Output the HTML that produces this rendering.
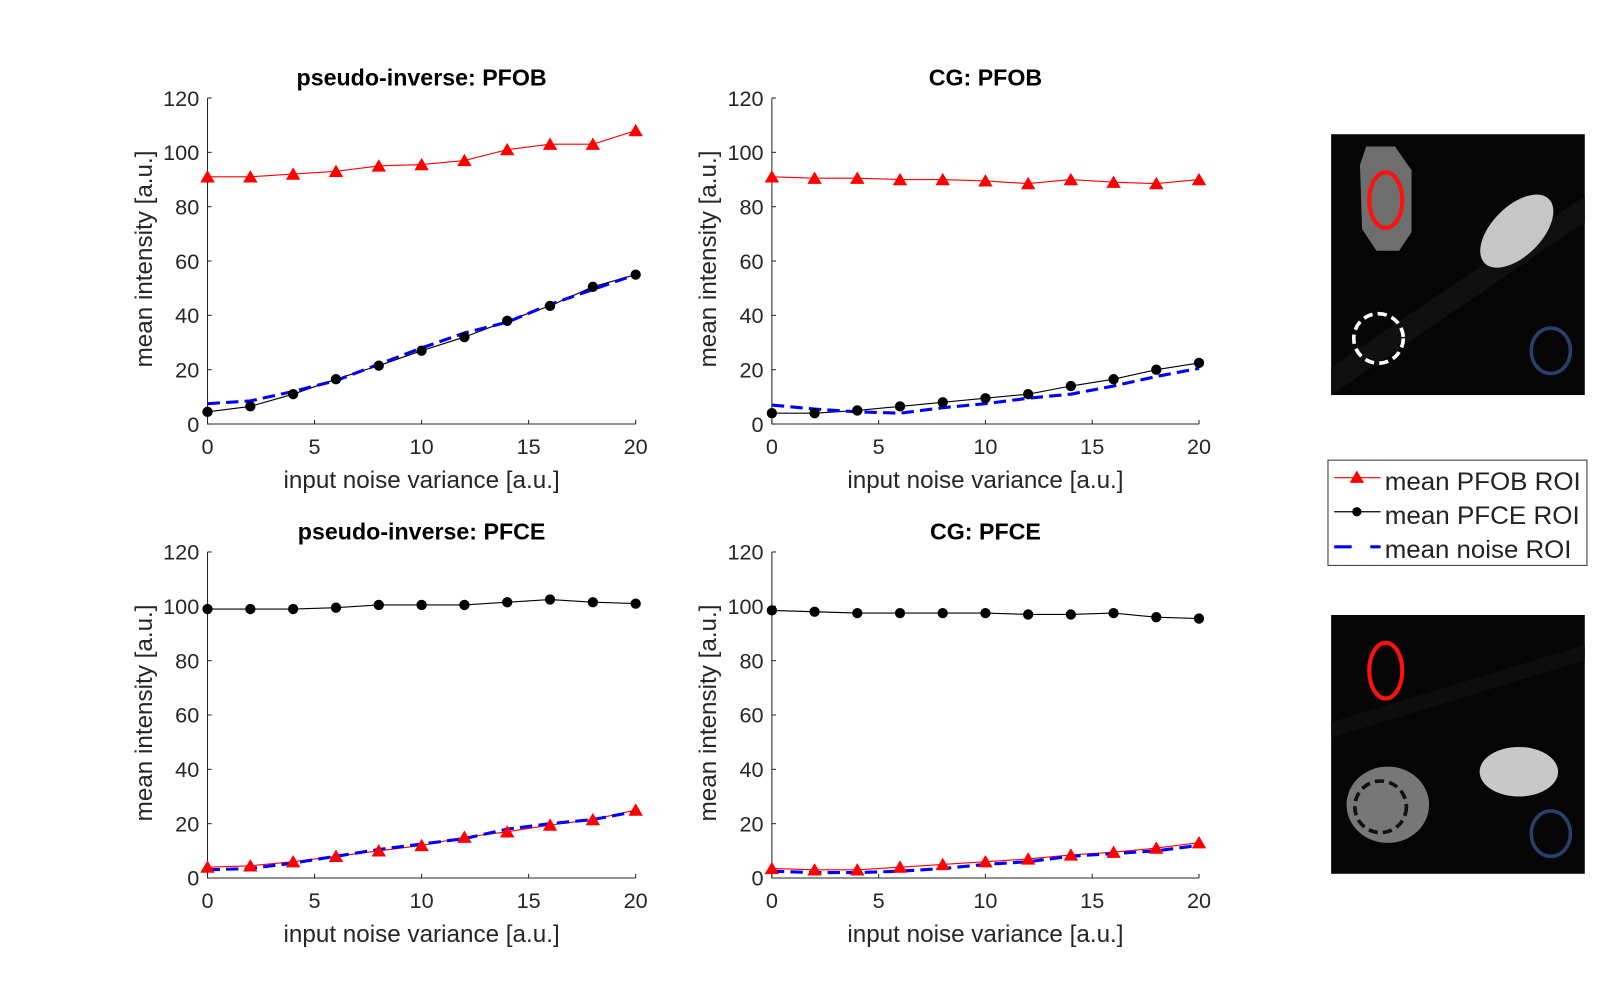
<!DOCTYPE html>
<html><head><meta charset="utf-8"><style>
html,body{margin:0;padding:0;background:#fff;}
svg{display:block;font-family:"Liberation Sans",Arial,sans-serif;}
</style></head><body>
<svg id="fig" width="1617" height="1008" viewBox="0 0 1567 977" xmlns="http://www.w3.org/2000/svg">
<defs>
 <clipPath id="clipTop"><rect x="1290" y="130" width="246" height="253"/></clipPath>
 <clipPath id="clipBot"><rect x="1290" y="596" width="246" height="251"/></clipPath>
</defs>
<rect width="1567" height="977" fill="#fff"/>
<g id="plots"></g>
<!-- top image -->
<g clip-path="url(#clipTop)">
 <rect x="1290" y="130" width="246" height="253" fill="#050505"/>
 <polygon points="1250,383 1536,190 1536,215 1290,383" fill="#101010"/>
 <polygon points="1324,142 1352,142 1368,165 1368,225 1356,243 1334,243 1320,222 1318,160" fill="#6e6e6e"/>
 <ellipse cx="1470" cy="224" rx="24" ry="44" transform="rotate(45 1470 224)" fill="#c6c6c6"/>
 <ellipse cx="1343" cy="194" rx="16" ry="27" fill="none" stroke="#ff1010" stroke-width="4"/>
 <circle cx="1336" cy="328" r="24" fill="none" stroke="#fff" stroke-width="3.5" stroke-dasharray="9,5"/>
 <ellipse cx="1503" cy="340" rx="19" ry="22" fill="none" stroke="#2a3f6c" stroke-width="3.5"/>
</g>
<!-- bottom image -->
<g clip-path="url(#clipBot)">
 <rect x="1290" y="596" width="246" height="251" fill="#050505"/>
 <polygon points="1290,700 1536,625 1536,640 1290,715" fill="#0d0d0d"/>
 <ellipse cx="1345" cy="780" rx="40" ry="37" fill="#777"/>
 <ellipse cx="1472" cy="748" rx="38" ry="24" fill="#c8c8c8"/>
 <ellipse cx="1343" cy="650" rx="16" ry="27" fill="none" stroke="#ff1010" stroke-width="4"/>
 <circle cx="1338" cy="782" r="25" fill="none" stroke="#111" stroke-width="3.5" stroke-dasharray="9,5"/>
 <ellipse cx="1503" cy="808" rx="19" ry="22" fill="none" stroke="#2a3f6c" stroke-width="3.5"/>
</g>
<!-- legend -->
<g>
 <rect x="1287" y="446" width="251" height="102" fill="#fff" stroke="#333" stroke-width="1"/>
 <g>
  <line x1="1293" y1="463" x2="1338" y2="463" stroke="#ff0000" stroke-width="1.2"/>
  <polygon points="1315,456 1322,468 1308,468" fill="#ff0000"/>
  <text x="1342" y="475" font-size="24" textLength="190" lengthAdjust="spacingAndGlyphs" fill="#222">mean PFOB ROI</text>
 </g>
 <g>
  <line x1="1293" y1="496" x2="1338" y2="496" stroke="#000" stroke-width="1.2"/>
  <circle cx="1315" cy="496" r="4.5" fill="#000"/>
  <text x="1342" y="508" font-size="24" textLength="189" lengthAdjust="spacingAndGlyphs" fill="#222">mean PFCE ROI</text>
 </g>
 <g>
  <line x1="1293" y1="530" x2="1310" y2="530" stroke="#0000ff" stroke-width="3"/>
  <line x1="1328" y1="530" x2="1338" y2="530" stroke="#0000ff" stroke-width="3"/>
  <text x="1342" y="541" font-size="24" textLength="181" lengthAdjust="spacingAndGlyphs" fill="#222">mean noise ROI</text>
 </g>
</g>
</svg>
<script>
const xValues = [0,2,4,6,8,10,12,14,16,18,20];
const xTicks = [0,5,10,15,20];
const yTicks = [0,20,40,60,80,100,120];
const titles = ["pseudo-inverse: PFOB","CG: PFOB","pseudo-inverse: PFCE","CG: PFCE"];
const tlRed = [91,91,92,93,95,95.5,97,101,103,103,108];
const tlBlack = [4.5,6.5,11,16.5,21.5,27,32,38,43.5,50.5,55];
const tlBlue = [7.5,8.5,12,16,22,28,33.5,37.5,44,49.5,55];
const trRed = [91,90.5,90.5,90,90,89.5,88.5,90,89,88.5,90];
const trBlack = [4,4,5,6.5,8,9.5,11,14,16.5,20,22.5];
const trBlue = [7,5.5,4.5,4,6,7.5,9.5,11,14,17.5,20.5];
const blBlack = [99,99,99,99.5,100.5,100.5,100.5,101.5,102.5,101.5,101];
const blRed = [4,4.5,6,8,10,12,15,17,19.5,21.5,25];
const blBlue = [3,3.5,5.5,8,10.5,12.5,14.5,18,20,21.5,24.5];
const brBlack = [98.5,98,97.5,97.5,97.5,97.5,97,97,97.5,96,95.5];
const brRed = [3.5,3,3,4,5,6,7,8.5,9.5,11,13];
const brBlue = [2.5,2,2,2.5,3.5,5,6,8,9,10,12];

const NS = "http://www.w3.org/2000/svg";
const root = document.getElementById("plots");
function mk(tag, attrs, parent){
  const e = document.createElementNS(NS, tag);
  for (const k in attrs) e.setAttribute(k, attrs[k]);
  parent.appendChild(e);
  return e;
}
const panels = [
  {x0:201,x1:616,y0:411,y1:95, red:tlRed, black:tlBlack, blue:tlBlue, name:"pinv-pfob"},
  {x0:748,x1:1162,y0:411,y1:95, red:trRed, black:trBlack, blue:trBlue, name:"cg-pfob"},
  {x0:201,x1:616,y0:851,y1:535, red:blRed, black:blBlack, blue:blBlue, name:"pinv-pfce"},
  {x0:748,x1:1162,y0:851,y1:535, red:brRed, black:brBlack, blue:brBlue, name:"cg-pfce"}
];
panels.forEach((p, i) => {
  const sx = v => p.x0 + (v - 0) / 20 * (p.x1 - p.x0);
  const sy = v => p.y0 - v / 120 * (p.y0 - p.y1);
  const g = mk("g", {}, root);
  
  
  const t = mk("text", {x:(p.x0+p.x1)/2, y:p.y1-12, "text-anchor":"middle", "font-size":"22.5", "font-weight":"bold", fill:"#000"}, g);
  t.textContent = titles[i];
  
  
  const ax = mk("path", {d:`M${p.x0},${p.y1}V${p.y0}H${p.x1}`, fill:"none", stroke:"#262626", "stroke-width":"1"}, g);
  
  
  xTicks.forEach(v => {
    mk("line", {x1:sx(v), x2:sx(v), y1:p.y0, y2:p.y0-4, stroke:"#262626"}, g);
    const tx = mk("text", {x:sx(v), y:p.y0+29, "text-anchor":"middle", "font-size":"21", fill:"#262626"}, g);
    tx.textContent = v;
    
    
  });
  yTicks.forEach(v => {
    mk("line", {x1:p.x0, x2:p.x0+4, y1:sy(v), y2:sy(v), stroke:"#262626"}, g);
    const ty = mk("text", {x:p.x0-8, y:sy(v)+7.5, "text-anchor":"end", "font-size":"21", fill:"#262626"}, g);
    ty.textContent = v;
    
    
  });
  const xl = mk("text", {x:(p.x0+p.x1)/2, y:p.y0+62, "text-anchor":"middle", "font-size":"23.5", fill:"#262626"}, g);
  xl.textContent = "input noise variance [a.u.]";
  
  
  const cy = (p.y0+p.y1)/2 - 2, cx = p.x0-54;
  const yl = mk("text", {x:cx, y:cy, "text-anchor":"middle", "font-size":"23.5", fill:"#262626", transform:`rotate(-90 ${cx} ${cy})`}, g);
  yl.textContent = "mean intensity [a.u.]";
  
  
  const pts = arr => arr.map((v, k) => sx(xValues[k]) + "," + sy(v)).join(" ");
  const rl = mk("polyline", {points:pts(p.red), fill:"none", stroke:"#ff0000", "stroke-width":"1.1"}, g);
  
  
  const bl = mk("polyline", {points:pts(p.black), fill:"none", stroke:"#000", "stroke-width":"1.1"}, g);
  
  
  const nl = mk("polyline", {points:pts(p.blue), fill:"none", stroke:"#0000ff", "stroke-width":"3", "stroke-dasharray":"12,6"}, g);
  
  
  p.red.forEach((v, k) => {
    const x = sx(xValues[k]), y = sy(v);
    const m = mk("polygon", {points:`${x},${y-6.5} ${x+7},${y+5.5} ${x-7},${y+5.5}`, fill:"#ff0000"}, g);
    
    
  });
  p.black.forEach((v, k) => {
    const m = mk("circle", {cx:sx(xValues[k]), cy:sy(v), r:"5", fill:"#000"}, g);
    
    
  });
});
</script>
</body></html>
